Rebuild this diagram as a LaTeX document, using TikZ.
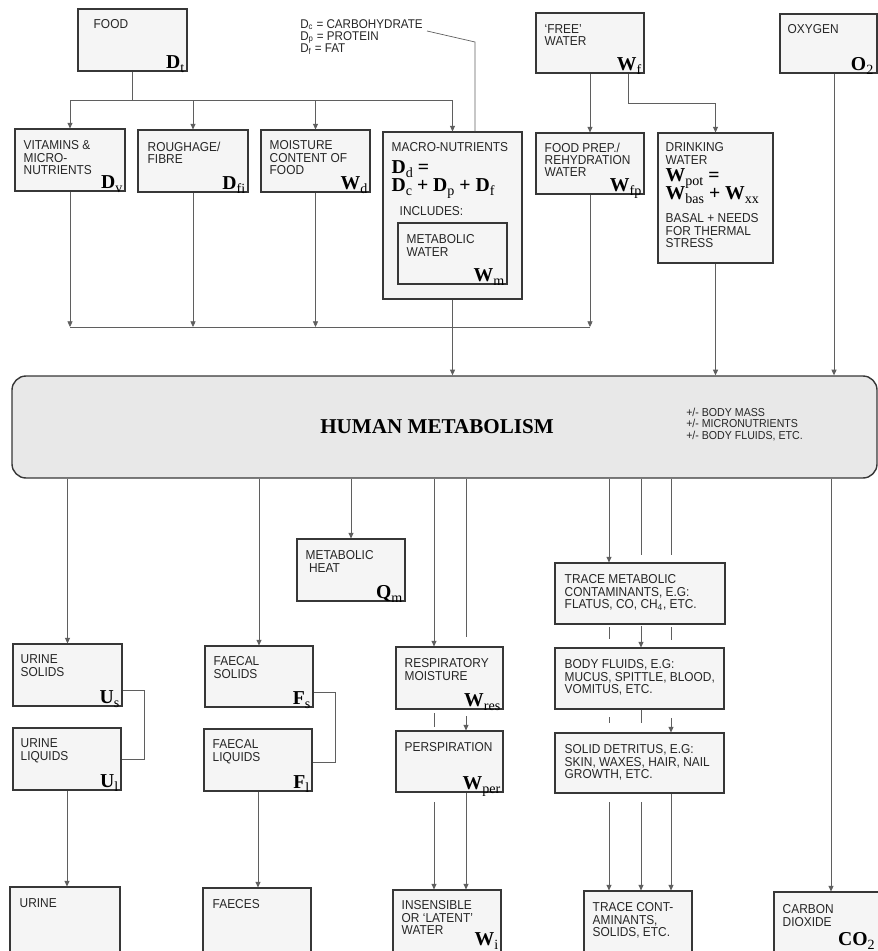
\documentclass[tikz,border=0pt]{standalone}
\usepackage{fontspec}
\setsansfont{Liberation Sans}[FakeStretch=0.92]
\newfontfamily\symfam{Liberation Serif}
\usetikzlibrary{arrows.meta,positioning,fit}
\definecolor{bxline}{RGB}{55,55,55}
\definecolor{bxfill}{RGB}{245,245,245}
\definecolor{hmfill}{RGB}{232,232,232}
\definecolor{cnline}{RGB}{95,95,95}
\newcommand{\lblfont}{\sffamily\fontsize{9.2}{8.8}\selectfont}
\newcommand{\sy}[2]{#1\raisebox{-0.45ex}{\fontsize{10}{10}\selectfont\mdseries #2}}

\begin{document}
\begin{tikzpicture}[x=0.025cm, y=-0.025cm,
    box/.style={draw=bxline, line width=0.8pt, fill=bxfill, inner sep=0pt},
    lbl/.style={anchor=north west, inner sep=0pt, align=left, font=\lblfont, text=black!85},
    sym/.style={anchor=base east, inner sep=0pt, font=\symfam\bfseries\fontsize{14}{14}\selectfont},
    eqn/.style={anchor=base west, inner sep=0pt, font=\symfam\bfseries\fontsize{14}{14}\selectfont},
    ln/.style={draw=cnline, line width=0.5pt},
    arr/.style={ln, -{Triangle[length=4pt, width=3.6pt]}}
  ]
  \useasboundingbox (0,0) rectangle (878,951);
  \clip (0,0) rectangle (878,951);

  % inputs
  \node[box, fit={(78,9) (187,71)}]    (food) {};
  \node[box, fit={(536,13) (644,73)}]  (free) {};
  \node[box, fit={(780,14) (877,73)}]  (oxy)  {};
  \node[lbl] at ([shift={(16,11)}]food.north west) {FOOD};
  \node[sym] at ([shift={(-3,-3)}]food.south east) {\sy{D}{t}};
  \node[lbl] at ([shift={(9,12)}]free.north west) {‘FREE’\\WATER};
  \node[sym] at ([shift={(-3,-3)}]free.south east) {\sy{W}{f}};
  \node[lbl] at ([shift={(8,11)}]oxy.north west) {OXYGEN};
  \node[sym] at ([shift={(-4,-3)}]oxy.south east) {\sy{O}{2}};
  \node[lbl, font=\sffamily\fontsize{9}{8.6}\selectfont] (lgd) at (300,19)
    {D\textsubscript{c} = CARBOHYDRATE\\D\textsubscript{p} = PROTEIN\\D\textsubscript{f} = FAT};

  % food components
  \node[box, fit={(15,129) (125,191)}]   (vit)   {};
  \node[box, fit={(138,130) (248,192)}]  (rough) {};
  \node[box, fit={(261,130) (370,192)}]  (moist) {};
  \node[box, fit={(383,132) (522,299)}]  (macro) {};
  \node[box, fit={(398,223) (507,284)}]  (mwat)  {};
  \node[box, fit={(536,133) (644,194)}]  (prep)  {};
  \node[box, fit={(658,133) (773,263)}]  (drink) {};
  \node[lbl] at ([shift={(9,12)}]vit.north west) {VITAMINS \&\\MICRO-\\NUTRIENTS};
  \node[sym] at ([shift={(-3,-3)}]vit.south east) {\sy{D}{v}};
  \node[lbl] at ([shift={(10,12)}]rough.north west) {ROUGHAGE/\\FIBRE};
  \node[sym] at ([shift={(-3,-3)}]rough.south east) {\sy{D}{fi}};
  \node[lbl] at ([shift={(9,11)}]moist.north west) {MOISTURE\\CONTENT OF\\FOOD};
  \node[sym] at ([shift={(-3,-3)}]moist.south east) {\sy{W}{d}};
  \node[lbl] at ([shift={(9,11)}]macro.north west) {MACRO-NUTRIENTS};
  \node[eqn] at ([shift={(9,42)}]macro.north west) {\sy{D}{d} =};
  \node[eqn] at ([shift={(9,60)}]macro.north west) {\sy{D}{c} + \sy{D}{p} + \sy{D}{f}};
  \node[lbl] at ([shift={(17,75)}]macro.north west) {INCLUDES:};
  \node[lbl] at ([shift={(9,12)}]mwat.north west) {METABOLIC\\WATER};
  \node[sym] at ([shift={(-3,-3)}]mwat.south east) {\sy{W}{m}};
  \node[lbl] at ([shift={(9,10)}]prep.north west) {FOOD PREP./\\REHYDRATION\\WATER};
  \node[sym] at ([shift={(-3,-3)}]prep.south east) {\sy{W}{fp}};
  \node[lbl] at ([shift={(8,10)}]drink.north west) {DRINKING\\WATER};
  \node[eqn] at ([shift={(8,49)}]drink.north west) {\sy{W}{pot} =};
  \node[eqn] at ([shift={(8,67)}]drink.north west) {\sy{W}{bas} + \sy{W}{xx}};
  \node[lbl] at ([shift={(8,81)}]drink.north west) {BASAL + NEEDS\\FOR THERMAL\\STRESS};

  % metabolism
  \node[box, fill=hmfill, rounded corners=10pt, line width=1pt, fit={(12,376) (877,478)}] (hum) {};
  \node[anchor=base, inner sep=0pt, font=\symfam\bfseries\fontsize{15}{15}\selectfont] (humt) at (437,433)
    {HUMAN METABOLISM};
  \node[lbl, font=\sffamily\fontsize{8.2}{8}\selectfont] (humn) at (686,408)
    {+/- BODY MASS\\+/- MICRONUTRIENTS\\+/- BODY FLUIDS, ETC.};

  % outputs
  \node[box, fit={(13,644) (122,706)}]   (us)    {};
  \node[box, fit={(13,728) (121,790)}]   (ul)    {};
  \node[box, fit={(10,887) (120,955)}]   (urine) {};
  \node[box, fit={(205,646) (313,707)}]  (fs)    {};
  \node[box, fit={(204,729) (312,791)}]  (fl)    {};
  \node[box, fit={(203,888) (311,955)}]  (faec)  {};
  \node[box, fit={(297,539) (405,601)}]  (heat)  {};
  \node[box, fit={(396,647) (503,709)}]  (resp)  {};
  \node[box, fit={(396,731) (503,792)}]  (persp) {};
  \node[box, fit={(393,890) (501,955)}]  (ins)   {};
  \node[box, fit={(555,563) (725,624)}]  (tm)    {};
  \node[box, fit={(555,648) (724,709)}]  (bf)    {};
  \node[box, fit={(555,733) (724,793)}]  (sd)    {};
  \node[box, fit={(584,891) (692,955)}]  (tc)    {};
  \node[box, fit={(774,892) (888,955)}]  (co)    {};
  \node[lbl] at ([shift={(8,11)}]us.north west) {URINE\\SOLIDS};
  \node[sym] at ([shift={(-3,-3)}]us.south east) {\sy{U}{s}};
  \node[lbl] at ([shift={(8,11)}]ul.north west) {URINE\\LIQUIDS};
  \node[sym] at ([shift={(-3,-3)}]ul.south east) {\sy{U}{l}};
  \node[lbl] at ([shift={(10,12)}]urine.north west) {URINE};
  \node[lbl] at ([shift={(9,11)}]fs.north west) {FAECAL\\SOLIDS};
  \node[sym] at ([shift={(-3,-3)}]fs.south east) {\sy{F}{s}};
  \node[lbl] at ([shift={(9,11)}]fl.north west) {FAECAL\\LIQUIDS};
  \node[sym] at ([shift={(-3,-3)}]fl.south east) {\sy{F}{l}};
  \node[lbl] at ([shift={(10,12)}]faec.north west) {FAECES};
  \node[lbl] at ([shift={(9,12)}]heat.north west) {METABOLIC\\\ HEAT};
  \node[sym] at ([shift={(-3,-3)}]heat.south east) {\sy{Q}{m}};
  \node[lbl] at ([shift={(9,12)}]resp.north west) {RESPIRATORY\\MOISTURE};
  \node[sym] at ([shift={(-3,-3)}]resp.south east) {\sy{W}{res}};
  \node[lbl] at ([shift={(9,12)}]persp.north west) {PERSPIRATION};
  \node[sym] at ([shift={(-3,-3)}]persp.south east) {\sy{W}{per}};
  \node[lbl] at ([shift={(9,11)}]ins.north west) {INSENSIBLE\\OR ‘LATENT’\\WATER};
  \node[sym] at ([shift={(-3,-6)}]ins.south east |- 0,951) {\sy{W}{i}};
  \node[lbl] at ([shift={(10,12)}]tm.north west) {TRACE METABOLIC\\CONTAMINANTS, E.G:\\FLATUS, CO, CH\textsubscript{4}, ETC.};
  \node[lbl] at ([shift={(10,12)}]bf.north west) {BODY FLUIDS, E.G:\\MUCUS, SPITTLE, BLOOD,\\VOMITUS, ETC.};
  \node[lbl] at ([shift={(10,12)}]sd.north west) {SOLID DETRITUS, E.G:\\SKIN, WAXES, HAIR, NAIL\\GROWTH, ETC.};
  \node[lbl] at ([shift={(9,12)}]tc.north west) {TRACE CONT-\\AMINANTS,\\SOLIDS, ETC.};
  \node[lbl] at ([shift={(9,13)}]co.north west) {CARBON\\DIOXIDE};
  \node[sym] at ([shift={(-2,-6)}]877,951) {CO\raisebox{-0.45ex}{\fontsize{10}{10}\selectfont\mdseries 2}};

  % food and water supply
  \draw[ln] (food.south) -- ++(0,29) coordinate (fj);
  \draw[ln] (vit.north |- fj) -- (macro.north |- fj);
  \foreach \n in {vit,rough,moist,macro}
    \draw[arr] (\n.north |- fj) -- (\n.north);
  \draw[ln] ([shift={(4,12)}]lgd.north east) -- (475,42) -- (macro.north -| 475,0);
  \draw[arr] (free.south) -- (prep.north);
  \draw[arr] ([shift={(-16,0)}]free.south east) -- ++(0,30) -| (drink.north);
  \coordinate (cj) at (0,327);
  \foreach \n in {vit,rough,moist,prep}
    \draw[arr] (\n.south) -- (\n.south |- cj);
  \draw[ln] (vit.south |- cj) -- (prep.south |- cj);
  \draw[arr] (macro.south) -- (macro.south |- hum.north);
  \draw[arr] (drink.south) -- (drink.south |- hum.north);
  \draw[arr] (oxy.south -| 834,0) -- (834,0 |- hum.north);

  % excreta
  \draw[arr] (hum.south -| us.north) -- (us.north);
  \draw[ln] (us.east |- 0,690) -- (144,690) |- (ul.east |- 0,759);
  \draw[arr] (ul.south) -- (ul.south |- urine.north);
  \draw[arr] (hum.south -| fs.north) -- (fs.north);
  \draw[ln] (fs.east |- 0,692) -- (335,692) |- (fl.east |- 0,762);
  \draw[arr] (fl.south) -- (fl.south |- faec.north);
  \draw[arr] (hum.south -| heat.north) -- (heat.north);

  % water losses
  \draw[arr] (hum.south -| 434,0) -- (resp.north -| 434,0);
  \draw[ln]  (hum.south -| 466,0) -- (466,637);
  \draw[ln]  (434,713) -- (434,727);
  \draw[arr] (466,716) -- (persp.north -| 466,0);
  \draw[arr] (434,802) -- (ins.north -| 434,0);
  \draw[arr] (persp.south -| 466,0) -- (ins.north -| 466,0);

  % trace contaminants
  \draw[arr] (hum.south -| 609,0) -- (tm.north -| 609,0);
  \draw[ln]  (hum.south -| 641,0) -- (641,555);
  \draw[ln]  (hum.south -| 671,0) -- (671,555);
  \draw[ln]  (609,627) -- (609,639);
  \draw[ln]  (671,627) -- (671,640);
  \draw[arr] (641,626) -- (bf.north -| 641,0);
  \draw[ln]  (609,717) -- (609,723);
  \draw[ln]  (bf.south -| 641,0) -- (641,723);
  \draw[arr] (671,718) -- (sd.north -| 671,0);
  \draw[arr] (609,802) -- (tc.north -| 609,0);
  \draw[arr] (641,802) -- (tc.north -| 641,0);
  \draw[arr] (sd.south -| 671,0) -- (tc.north -| 671,0);
  \draw[arr] (hum.south -| co.north) -- (co.north);
\end{tikzpicture}
\end{document}
